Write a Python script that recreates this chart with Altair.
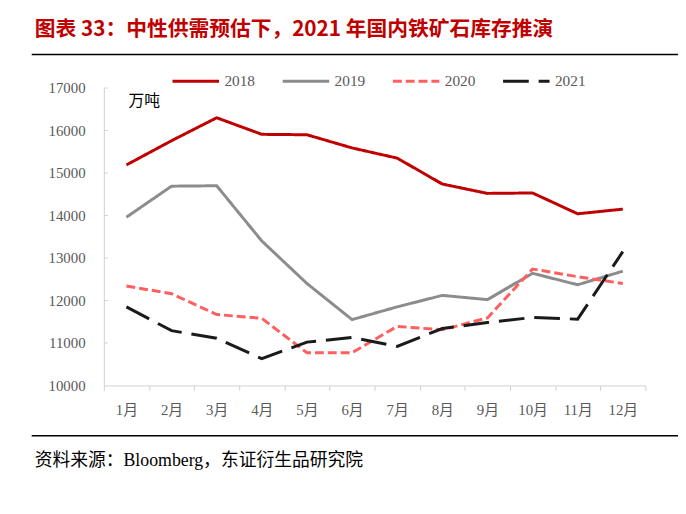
import altair as alt
import pandas as pd

months = ["1月", "2月", "3月", "4月", "5月", "6月", "7月", "8月", "9月", "10月", "11月", "12月"]
years = ["2018", "2019", "2020", "2021"]
v2018 = [15190, 15760, 16300, 15910, 15900, 15590, 15350, 14740, 14520, 14530, 14040, 14150]
v2019 = [13960, 14690, 14700, 13400, 12400, 11550, 11850, 12120, 12020, 12640, 12370, 12690]
v2020 = [12340, 12160, 11670, 11580, 10770, 10770, 11390, 11310, 11590, 12740, 12560, 12400]
v2021 = [11850, 11290, 11110, 10630, 11020, 11130, 10920, 11340, 11480, 11600, 11560, 13150]
y_ticks = [11000, 12000, 13000, 14000, 15000, 16000, 17000]

colors = ["#c00000", "#8c8c8c", "#ff5f5f", "#1a1a1a"]
dashes = [[1, 0], [1, 0], [9, 4], [26, 10]]

rows = []
for yr, vals in zip(years, [v2018, v2019, v2020, v2021]):
    for m, v in zip(months, vals):
        rows.append({"month": m, "year": yr, "value": v})
df = pd.DataFrame(rows)

W, H = 548, 301
serif = "Liberation Serif, Noto Sans CJK SC"
gray_txt = "#595959"
axis_gray = "#d0d0d0"

lines = alt.Chart(df).mark_line(strokeWidth=3).encode(
    x=alt.X("month:N", sort=months, title=None,
            scale=alt.Scale(type="band", paddingInner=0, paddingOuter=0),
            axis=alt.Axis(labelAngle=0, tickBand="extent", tickSize=5,
                          tickColor=axis_gray, domainColor=axis_gray,
                          labelFont=serif, labelFontSize=15, labelColor=gray_txt,
                          labelPadding=12)),
    y=alt.Y("value:Q", title=None,
            scale=alt.Scale(domain=[10000, 17000], nice=False, zero=False),
            axis=alt.Axis(values=[10000] + y_ticks, format="d", ticks=False, grid=False,
                          domainColor=axis_gray, labelFont=serif, labelFontSize=15,
                          labelColor=gray_txt, labelPadding=19)),
    color=alt.Color("year:N", scale=alt.Scale(domain=years, range=colors),
                    legend=alt.Legend(title=None)),
    strokeDash=alt.StrokeDash("year:N", scale=alt.Scale(domain=years, range=dashes),
                              legend=alt.Legend(title=None)),
)

ytick_df = pd.DataFrame({"t": y_ticks})
yticks = alt.Chart(ytick_df).mark_rule(color=axis_gray, strokeWidth=1).encode(
    y=alt.Y("t:Q", scale=alt.Scale(domain=[10000, 17000], nice=False, zero=False)),
    x=alt.value(0), x2=alt.value(4),
)

one = pd.DataFrame({"a": [0]})
title = alt.Chart(one).mark_text(
    text="图表 33：中性供需预估下，2021 年国内铁矿石库存推演",
    align="left", baseline="middle", font="Noto Sans CJK SC", fontWeight="bold",
    fontSize=21, color="#c00000",
).encode(x=alt.value(-70), y=alt.value(-59))

rule_top = alt.Chart(one).mark_rule(color="#000000", strokeWidth=1.5).encode(
    x=alt.value(-73), x2=alt.value(585), y=alt.value(-34))
rule_bot = alt.Chart(one).mark_rule(color="#000000", strokeWidth=1.5).encode(
    x=alt.value(-73), x2=alt.value(585), y=alt.value(352))

unit = alt.Chart(one).mark_text(
    text="万吨", align="left", baseline="middle", font="Noto Sans CJK SC",
    fontSize=16, color="#000000",
).encode(x=alt.value(25), y=alt.value(13))

source = alt.Chart(one).mark_text(
    text="资料来源：Bloomberg，东证衍生品研究院", align="left", baseline="middle",
    font=serif, fontSize=18, color="#000000",
).encode(x=alt.value(-70), y=alt.value(378))

chart = alt.layer(lines, yticks, title, rule_top, rule_bot, unit, source).properties(
    width=W, height=H,
    padding={"left": 97, "top": 78, "right": 33, "bottom": 119},
    autosize=alt.AutoSizeParams(type="none"),
).configure_view(stroke=None).configure_legend(
    orient="none", legendX=68, legendY=-32, direction="horizontal",
    symbolType="stroke", symbolSize=2209, symbolStrokeWidth=3,
    columnPadding=21.5, labelFont=serif, labelFontSize=15.5, labelColor=gray_txt,
    labelOffset=4,
)

chart.save("out.html", embed_options={"renderer": "svg", "actions": False})
